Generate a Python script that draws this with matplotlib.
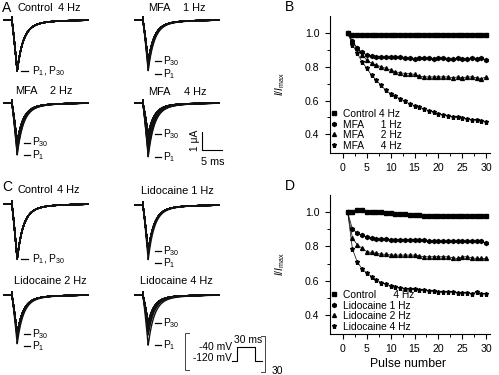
import numpy as np
import matplotlib
matplotlib.use("Agg")
import matplotlib.pyplot as plt
from matplotlib.lines import Line2D

plt.rcParams['font.family'] = ['Liberation Sans', 'DejaVu Sans']
plt.rcParams['mathtext.fontset'] = 'custom'
plt.rcParams['mathtext.rm'] = 'Liberation Sans'
plt.rcParams['mathtext.it'] = 'Liberation Sans:italic'
plt.rcParams['mathtext.default'] = 'regular'

# ---- data: normalised peak current vs pulse number ----
pulses = np.arange(1, 31)

ctrl_B = [1.00, 0.99, 0.99, 0.99, 0.99, 0.99, 0.99, 0.99, 0.99, 0.985, 0.99, 0.985, 0.985, 0.985, 0.985,
          0.985, 0.985, 0.985, 0.985, 0.99, 0.985, 0.985, 0.985, 0.985, 0.985, 0.985, 0.985, 0.985, 0.985, 0.985]
mfa1_B = [1.00, 0.95, 0.91, 0.885, 0.87, 0.865, 0.86, 0.86, 0.855, 0.855, 0.855, 0.855, 0.85, 0.85, 0.845,
          0.85, 0.85, 0.85, 0.845, 0.85, 0.85, 0.845, 0.845, 0.85, 0.845, 0.845, 0.85, 0.845, 0.85, 0.84]
mfa2_B = [1.00, 0.95, 0.91, 0.87, 0.84, 0.82, 0.81, 0.80, 0.79, 0.78, 0.77, 0.765, 0.76, 0.76, 0.755,
          0.745, 0.74, 0.74, 0.74, 0.74, 0.74, 0.74, 0.735, 0.74, 0.735, 0.74, 0.74, 0.735, 0.73, 0.74]
mfa4_B = [1.00, 0.93, 0.88, 0.83, 0.79, 0.75, 0.72, 0.69, 0.66, 0.64, 0.625, 0.61, 0.595, 0.58, 0.57,
          0.56, 0.55, 0.54, 0.53, 0.52, 0.515, 0.51, 0.505, 0.50, 0.495, 0.49, 0.485, 0.485, 0.48, 0.475]

ctrl_D = [1.00, 1.00, 1.01, 1.01, 1.00, 1.00, 1.00, 1.00, 0.995, 0.995, 0.99, 0.99, 0.99, 0.985, 0.985,
          0.985, 0.98, 0.98, 0.975, 0.975, 0.98, 0.975, 0.98, 0.98, 0.975, 0.98, 0.98, 0.975, 0.98, 0.975]
lido1_D = [1.00, 0.90, 0.88, 0.865, 0.855, 0.85, 0.845, 0.845, 0.845, 0.84, 0.84, 0.84, 0.84, 0.84, 0.84,
           0.84, 0.835, 0.83, 0.83, 0.83, 0.83, 0.83, 0.83, 0.83, 0.83, 0.83, 0.83, 0.83, 0.83, 0.82]
lido2_D = [1.00, 0.85, 0.81, 0.79, 0.77, 0.765, 0.76, 0.755, 0.755, 0.75, 0.75, 0.75, 0.75, 0.75, 0.75,
           0.745, 0.74, 0.74, 0.74, 0.74, 0.74, 0.74, 0.735, 0.73, 0.74, 0.74, 0.735, 0.73, 0.73, 0.73]
lido4_D = [1.00, 0.785, 0.71, 0.67, 0.645, 0.625, 0.605, 0.59, 0.58, 0.57, 0.565, 0.56, 0.555, 0.55, 0.55,
           0.545, 0.545, 0.54, 0.54, 0.535, 0.535, 0.535, 0.535, 0.53, 0.53, 0.53, 0.525, 0.535, 0.525, 0.525]

labels_B = ['Control 4 Hz', 'MFA      1 Hz', 'MFA      2 Hz', 'MFA      4 Hz']
labels_D = ['Control      4 Hz', 'Lidocaine 1 Hz', 'Lidocaine 2 Hz', 'Lidocaine 4 Hz']
markers = ['s', 'h', '^', '*']
msizes = [2.4, 2.9, 2.8, 3.6]

# peak currents (uA) of pulse 1 and pulse 30
peaks_ctrl_A = (2.83, 2.83)
peaks_mfa1 = (2.83, 2.30)
peaks_mfa2 = (2.90, 2.20)
peaks_mfa4 = (3.00, 1.72)
peaks_ctrl_C = (3.05, 3.05)
peaks_lido1 = (3.05, 2.55)
peaks_lido2 = (2.72, 2.15)
peaks_lido4 = (2.80, 1.55)

# voltage protocol
prot_ms = [-8, 0, 30, 42]
prot_mv = [-120, -40, -120, -120]

W, H = 499, 375
PX_MS, PX_UA = 4.0, 18.0
T_ON, RISE = 2.2, 1.35
FS = 7.4


def box(x, y, w, h):
    # pixel box (top-left origin) -> figure fraction
    return [x / W, 1 - (y + h) / H, w / W, h / H]


def current(amp):
    # stimulus artifact, fast activation, bi-exponential inactivation
    t_pre = np.array([0.25, T_ON, T_ON, T_ON])
    y_pre = np.array([0.0, 0.0, 0.17, -0.08])
    t = np.linspace(T_ON + 0.05, 21.25, 500)
    y = np.zeros_like(t)
    up = t < T_ON + RISE
    y[up] = ((t[up] - T_ON) / RISE) ** 1.15
    s = t[~up] - (T_ON + RISE)
    y[~up] = 0.84 * np.exp(-s / 1.45) + 0.16 * np.exp(-s / 5.0)
    return np.concatenate([t_pre, t]), np.concatenate([y_pre, -amp * y])


fig = plt.figure(figsize=(W / 100, H / 100), dpi=100)

# ---- current trace panels ----
trace_panels = [
    # x0, baseline, name, name x, freq, freq x, title offset, peaks, ratio series
    (3, 20, 'Control', 17, '4 Hz', 58, 12, peaks_ctrl_A, ctrl_B),
    (134, 20, 'MFA', 148, '1 Hz', 183, 12, peaks_mfa1, mfa1_B),
    (3, 103, 'MFA', 15, '2 Hz', 50, 12, peaks_mfa2, mfa2_B),
    (134, 103, 'MFA', 148, '4 Hz', 184, 11, peaks_mfa4, mfa4_B),
    (3, 204, 'Control', 17, '4 Hz', 57, 14, peaks_ctrl_C, ctrl_D),
    (134, 205, 'Lidocaine 1 Hz', 141, '', 0, 14, peaks_lido1, lido1_D),
    (3, 295, 'Lidocaine 2 Hz', 14, '', 0, 14, peaks_lido2, lido2_D),
    (134, 295, 'Lidocaine 4 Hz', 140, '', 0, 14, peaks_lido4, lido4_D),
]

trace_axes = []
for x0, base, name, nx, freq, fx, toff, (p1, p30), ratio in trace_panels:
    ax = fig.add_axes(box(x0, base - 12, 86, 74))
    ax.set_xlim(0, 86 / PX_MS)
    ax.set_ylim(-62 / PX_UA, 12 / PX_UA)
    ax.axis('off')
    r = np.array(ratio)
    if p1 == p30:
        amps = np.full(len(r), p1)
    else:
        amps = p1 - (p1 - p30) * (1 - r) / (1 - r[-1])
    for a in amps[::-1]:
        t, y = current(a)
        ax.plot(t, y, color='#111111', lw=1.0)
    tp = T_ON + RISE
    if p1 == p30:
        ax.plot([tp + 1.0, tp + 2.8], [-p1, -p1], color='k', lw=0.9)
        ax.text(tp + 3.6, -p1, 'P$_1$, P$_{30}$', fontsize=FS, va='center', ha='left')
    else:
        lab1 = max(p1, p30 + 12.5 / PX_UA)
        for p, lab in [(lab1, 'P$_1$'), (p30, 'P$_{30}$')]:
            ax.plot([tp + 1.6, tp + 3.2], [-p, -p], color='k', lw=0.9)
            ax.text(tp + 3.8, -p, lab, fontsize=FS, va='center', ha='left')
    ax.text((nx - x0) / PX_MS, toff / PX_UA, name, fontsize=7.9, va='center', ha='left')
    if freq:
        ax.text((fx - x0) / PX_MS, toff / PX_UA, freq, fontsize=7.9, va='center', ha='left')
    trace_axes.append(ax)

# scale bars in the MFA 4 Hz panel
sb = trace_axes[3]
sb.plot([17, 17, 22], [-1.61, -2.61, -2.61], color='k', lw=0.8, clip_on=False)
sb.text(15.2, -2.1, '1 \u03bcA', rotation=90, fontsize=FS, ha='center', va='center')
sb.text(19.8, -3.28, '5 ms', fontsize=7.8, ha='center', va='center')

# ---- voltage protocol ----
pax = fig.add_axes(box(180, 328, 115, 47))
pax.set_xlim(-95, 96.7)
pax.set_ylim(-200, 68.6)
pax.axis('off')
pax.step(prot_ms, prot_mv, where='post', color='k', lw=0.8)
pax.text(-8, -40, '-40 mV', fontsize=FS, ha='right', va='center')
pax.text(-8, -103, '-120 mV', fontsize=FS, ha='right', va='center')
pax.text(18, 2, '30 ms', fontsize=FS, ha='center', va='center')
pax.text(68, -177, '30', fontsize=FS, ha='center', va='center')
pax.plot([0.078, 0.043, 0.043, 0.078], [0.894, 0.894, 0.106, 0.106], transform=pax.transAxes,
         color='#444444', lw=0.7)
pax.plot([0.705, 0.739, 0.739, 0.705], [0.83, 0.83, 0.064, 0.064], transform=pax.transAxes,
         color='#444444', lw=0.7)

# ---- use-dependence plots ----
def rundown(ax, series, labels):
    for vals, m, ms, lab in zip(series, markers, msizes, labels):
        ax.plot(pulses, vals, color='k', lw=0.5, marker=m, markersize=ms, label=lab)
    ax.set_xlim(-2.7, 30.8)
    ax.set_ylim(0.29, 1.10)
    ax.set_xticks(range(0, 31, 5))
    ax.set_xticks(np.arange(0, 31, 2.5), minor=True)
    ax.set_yticks([0.4, 0.6, 0.8, 1.0])
    ax.set_yticks([0.5, 0.7, 0.9], minor=True)
    ax.yaxis.set_major_formatter(matplotlib.ticker.FormatStrFormatter('%.1f'))
    for s in ['top', 'right']:
        ax.spines[s].set_visible(False)
    for s in ['left', 'bottom']:
        ax.spines[s].set_linewidth(0.8)
    ax.tick_params(which='major', length=3.5, width=0.8, labelsize=7.6, pad=4)
    ax.tick_params(which='minor', length=2, width=0.7)
    ax.set_ylabel(r'$\mathit{I/I}_{max}$', fontsize=7.4)
    ax.yaxis.set_label_coords(-0.27, 0.5)
    handles = [Line2D([], [], ls='none', marker=m, markersize=ms, color='k')
               for m, ms in zip(markers, msizes)]
    ax.legend(handles, labels, loc='lower left', bbox_to_anchor=(0.0, 0.01), frameon=False,
              fontsize=7.4, handlelength=0.6, handletextpad=0.6, labelspacing=0.05,
              borderpad=0, borderaxespad=0.1)


axB = fig.add_axes(box(330, 16, 160, 137))
rundown(axB, [ctrl_B, mfa1_B, mfa2_B, mfa4_B], labels_B)

axD = fig.add_axes(box(330, 195, 160, 139))
rundown(axD, [ctrl_D, lido1_D, lido2_D, lido4_D], labels_D)
axD.set_xlabel('Pulse number', fontsize=8.8)
axD.xaxis.set_label_coords(0.49, -0.17)

# panel letters
for lab, x, y in [('A', 2, 8), ('B', 285, 7), ('C', 2, 187), ('D', 285, 186)]:
    fig.text(x / W, 1 - y / H, lab, fontsize=10, ha='left', va='center')

fig.savefig('out.png', dpi=100)
